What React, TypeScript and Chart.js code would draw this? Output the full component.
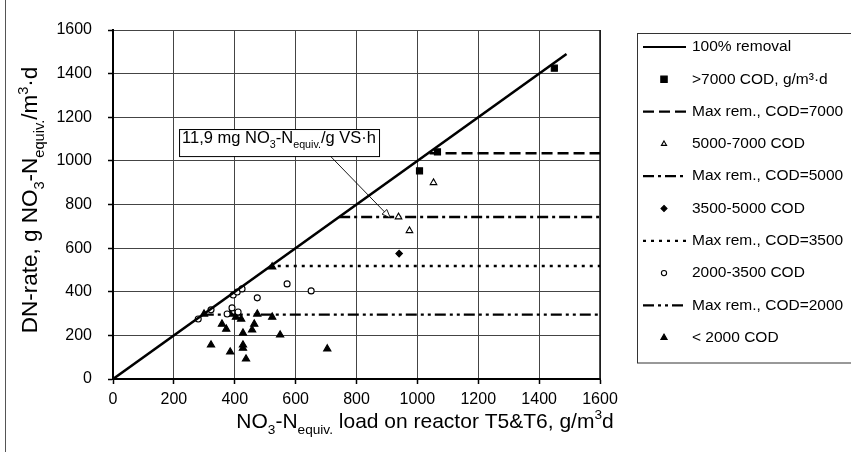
import React, { useEffect, useRef } from "react";
import { Chart, registerables } from "chart.js";

Chart.register(...registerables);

// ---------------- data ----------------
const axisMin = 0;
const axisMax = 1600;
const tickStep = 200;

const seriesLabels = [
  "100% removal",
  ">7000 COD, g/m³·d",
  "Max rem., COD=7000",
  "5000-7000 COD",
  "Max rem., COD=5000",
  "3500-5000 COD",
  "Max rem., COD=3500",
  "2000-3500 COD",
  "Max rem., COD=2000",
  "< 2000 COD",
];

const removalX = [0, 1490];
const removalY = [0, 1490];

const codGt7000X = [1450, 1066, 1007];
const codGt7000Y = [1425, 1041, 954];

const max7000X = [1040, 1600];
const max7000Y = [1035, 1035];

const cod5000to7000X = [1053, 938, 974];
const cod5000to7000Y = [900, 743, 680];

const max5000X = [743, 1600];
const max5000Y = [743, 743];

const cod3500to5000X = [940];
const cod3500to5000Y = [575];

const max3500X = [515, 1600];
const max3500Y = [518, 518];

const cod2000to3500X = [280, 322, 395, 408, 424, 474, 572, 651, 391, 375, 411];
const cod2000to3500Y = [275, 317, 385, 399, 413, 372, 436, 404, 326, 298, 307];

const max2000X = [295, 1600];
const max2000Y = [295, 295];

const codLt2000X = [299, 358, 372, 322, 385, 385, 404, 421, 427, 427, 427, 437, 457, 464, 474, 523, 549, 704, 523];
const codLt2000Y = [298, 252, 229, 156, 124, 298, 284, 275, 211, 156, 142, 92, 225, 252, 298, 284, 202, 138, 514];

// annotation (data coordinates)
const annotBoxX = [217, 874];
const annotBoxY = [1022, 1146];
const annotArrowX = [714, 911];
const annotArrowY = [1022, 739];

// ---------------- styles ----------------
const FONT = "'Liberation Sans', Arial, Helvetica, sans-serif";

type Run = { t: string; k?: "sub" | "sup" };

const yTitleRuns: Run[] = [
  { t: "DN-rate, g NO" },
  { t: "3", k: "sub" },
  { t: "-N" },
  { t: "equiv.", k: "sub" },
  { t: "/m" },
  { t: "3", k: "sup" },
  { t: "·d" },
];
const xTitleRuns: Run[] = [
  { t: "NO" },
  { t: "3", k: "sub" },
  { t: "-N" },
  { t: "equiv.", k: "sub" },
  { t: " load on reactor T5&T6, g/m" },
  { t: "3", k: "sup" },
  { t: "d" },
];
const annotRuns: Run[] = [
  { t: "11,9 mg NO" },
  { t: "3", k: "sub" },
  { t: "-N" },
  { t: "equiv.", k: "sub" },
  { t: "/g VS·h" },
];

const dashes = {
  solid: [] as number[],
  d7000: [11, 5],
  d5000: [11, 4, 3, 4],
  d3500: [3, 5],
  d2000: [11, 4, 3, 4, 3, 4],
};

type LegendEntry =
  | { kind: "line"; dash: number[]; width: number }
  | { kind: "point"; style: string; r: number; fill: string };

const legendStyles: LegendEntry[] = [
  { kind: "line", dash: dashes.solid, width: 2 },
  { kind: "point", style: "rect", r: 3.2, fill: "#000" },
  { kind: "line", dash: dashes.d7000, width: 2.2 },
  { kind: "point", style: "triangle", r: 3, fill: "#fff" },
  { kind: "line", dash: dashes.d5000, width: 2.2 },
  { kind: "point", style: "rectRot", r: 3, fill: "#000" },
  { kind: "line", dash: dashes.d3500, width: 2.2 },
  { kind: "point", style: "circle", r: 2.6, fill: "#fff" },
  { kind: "line", dash: dashes.d2000, width: 2.2 },
  { kind: "point", style: "triangle", r: 3.6, fill: "#000" },
];

function pts(xs: number[], ys: number[]) {
  return xs.map((x, i) => ({ x, y: ys[i] }));
}

function drawRich(
  ctx: CanvasRenderingContext2D,
  runs: Run[],
  x: number,
  y: number,
  size: number,
  align: "left" | "center"
) {
  const small = size * 0.65;
  const widths = runs.map((r) => {
    ctx.font = `${r.k ? small : size}px ${FONT}`;
    return ctx.measureText(r.t).width;
  });
  const total = widths.reduce((a, b) => a + b, 0);
  let cx = align === "center" ? x - total / 2 : x;
  ctx.textBaseline = "alphabetic";
  ctx.textAlign = "left";
  runs.forEach((r, i) => {
    ctx.font = `${r.k ? small : size}px ${FONT}`;
    const dy = r.k === "sub" ? size * 0.3 : r.k === "sup" ? -size * 0.42 : 0;
    ctx.fillText(r.t, cx, y + dy);
    cx += widths[i];
  });
  return total;
}

function drawMarker(
  ctx: CanvasRenderingContext2D,
  style: string,
  x: number,
  y: number,
  r: number,
  fill: string
) {
  ctx.beginPath();
  if (style === "rect") {
    const s = r;
    ctx.rect(x - s, y - s, 2 * s, 2 * s);
  } else if (style === "triangle") {
    ctx.moveTo(x, y - r);
    ctx.lineTo(x + r * 0.866, y + r * 0.5);
    ctx.lineTo(x - r * 0.866, y + r * 0.5);
    ctx.closePath();
  } else if (style === "rectRot") {
    ctx.moveTo(x, y - r);
    ctx.lineTo(x + r, y);
    ctx.lineTo(x, y + r);
    ctx.lineTo(x - r, y);
    ctx.closePath();
  } else {
    ctx.arc(x, y, r, 0, Math.PI * 2);
  }
  ctx.fillStyle = fill;
  ctx.fill();
  ctx.lineWidth = 1.1;
  ctx.strokeStyle = "#000";
  ctx.stroke();
}

const decorPlugin = {
  id: "decor",
  beforeDatasetsDraw(chart: any) {
    const { ctx, chartArea } = chart;
    ctx.save();
    ctx.strokeStyle = "#111";
    ctx.lineWidth = 1.5;
    ctx.beginPath();
    ctx.moveTo(chartArea.right, chartArea.top);
    ctx.lineTo(chartArea.right, chartArea.bottom);
    ctx.stroke();
    ctx.restore();
  },
  afterDatasetsDraw(chart: any) {
    const { ctx, scales } = chart;
    const xs = scales.x;
    const ys = scales.y;
    ctx.save();

    // annotation box
    const bx1 = xs.getPixelForValue(annotBoxX[0]);
    const bx2 = xs.getPixelForValue(annotBoxX[1]);
    const by1 = ys.getPixelForValue(annotBoxY[1]);
    const by2 = ys.getPixelForValue(annotBoxY[0]);
    ctx.fillStyle = "#fff";
    ctx.fillRect(bx1, by1, bx2 - bx1, by2 - by1);
    ctx.strokeStyle = "#000";
    ctx.lineWidth = 1;
    ctx.strokeRect(bx1 + 0.5, by1 + 0.5, bx2 - bx1, by2 - by1);
    ctx.fillStyle = "#000";
    drawRich(ctx, annotRuns, (bx1 + bx2) / 2, by1 + 14, 16.5, "center");

    // arrow
    const ax1 = xs.getPixelForValue(annotArrowX[0]);
    const ay1 = ys.getPixelForValue(annotArrowY[0]);
    const ax2 = xs.getPixelForValue(annotArrowX[1]);
    const ay2 = ys.getPixelForValue(annotArrowY[1]);
    ctx.strokeStyle = "#000";
    ctx.lineWidth = 0.9;
    ctx.beginPath();
    ctx.moveTo(ax1, ay1);
    ctx.lineTo(ax2, ay2);
    ctx.stroke();
    const ang = Math.atan2(ay2 - ay1, ax2 - ax1);
    const hl = 9;
    const hw = 0.38;
    ctx.beginPath();
    ctx.moveTo(ax2, ay2);
    ctx.lineTo(ax2 - hl * Math.cos(ang - hw), ay2 - hl * Math.sin(ang - hw));
    ctx.lineTo(ax2 - hl * Math.cos(ang + hw), ay2 - hl * Math.sin(ang + hw));
    ctx.closePath();
    ctx.fillStyle = "#fff";
    ctx.fill();
    ctx.stroke();

    ctx.restore();
  },
  afterDraw(chart: any) {
    const { ctx } = chart;
    ctx.save();
    ctx.fillStyle = "#000";

    // axis titles
    drawRich(ctx, xTitleRuns, 425, 428, 21, "center");
    ctx.save();
    ctx.translate(37, 200);
    ctx.rotate(-Math.PI / 2);
    drawRich(ctx, yTitleRuns, 0, 0, 22.5, "center");
    ctx.restore();

    // outer frame (left)
    ctx.strokeStyle = "#555";
    ctx.lineWidth = 1;
    ctx.beginPath();
    ctx.moveTo(5.5, 0);
    ctx.lineTo(5.5, 452);
    ctx.stroke();

    // legend
    const lx = 637.5;
    const ly = 33.5;
    ctx.strokeStyle = "#333";
    ctx.lineWidth = 1;
    ctx.strokeRect(lx, ly, 860 - lx, 363 - ly);
    seriesLabels.forEach((label, i) => {
      const y = 47 + i * 32.3;
      const st = legendStyles[i];
      if (st.kind === "line") {
        ctx.save();
        ctx.strokeStyle = "#000";
        ctx.lineWidth = st.width;
        ctx.setLineDash(st.dash);
        ctx.beginPath();
        ctx.moveTo(643, y);
        ctx.lineTo(686, y);
        ctx.stroke();
        ctx.restore();
      } else {
        drawMarker(ctx, st.style, 664, y, st.r, st.fill);
      }
      ctx.fillStyle = "#000";
      ctx.font = `15.5px ${FONT}`;
      ctx.textAlign = "left";
      ctx.textBaseline = "middle";
      ctx.fillText(label, 692, y);
    });
    ctx.restore();
  },
};

export default function App() {
  const canvasRef = useRef<HTMLCanvasElement | null>(null);

  useEffect(() => {
    const canvas = canvasRef.current;
    if (!canvas) return;

    const lineDs = (label: string, xs: number[], ys: number[], dash: number[], width: number) => ({
      type: "line" as const,
      label,
      data: pts(xs, ys),
      showLine: true,
      borderColor: "#000",
      borderWidth: width,
      borderDash: dash,
      pointRadius: 0,
      fill: false,
      tension: 0,
    });
    const pointDs = (
      label: string,
      xs: number[],
      ys: number[],
      style: string,
      r: number,
      bg: string
    ) => ({
      type: "scatter" as const,
      label,
      data: pts(xs, ys),
      pointStyle: style,
      pointRadius: r,
      backgroundColor: bg,
      borderColor: "#000",
      borderWidth: 1.1,
    });

    const tickFmt = (v: any) => String(v);

    const chart = new Chart(canvas, {
      type: "scatter",
      data: {
        datasets: [
          lineDs(seriesLabels[0], removalX, removalY, dashes.solid, 2.6),
          pointDs(seriesLabels[1], codGt7000X, codGt7000Y, "rect", 4.3, "#000"),
          lineDs(seriesLabels[2], max7000X, max7000Y, dashes.d7000, 2.4),
          pointDs(seriesLabels[3], cod5000to7000X, cod5000to7000Y, "triangle", 3.8, "#fff"),
          lineDs(seriesLabels[4], max5000X, max5000Y, dashes.d5000, 2.4),
          pointDs(seriesLabels[5], cod3500to5000X, cod3500to5000Y, "rectRot", 3.3, "#000"),
          lineDs(seriesLabels[6], max3500X, max3500Y, dashes.d3500, 2.4),
          pointDs(seriesLabels[7], cod2000to3500X, cod2000to3500Y, "circle", 3, "#fff"),
          lineDs(seriesLabels[8], max2000X, max2000Y, dashes.d2000, 2.4),
          pointDs(seriesLabels[9], codLt2000X, codLt2000Y, "triangle", 4.2, "#000"),
        ] as any,
      },
      options: {
        animation: false,
        responsive: false,
        devicePixelRatio: 1,
        layout: { padding: { top: 30, right: 251, left: 0, bottom: 0 } },
        plugins: {
          legend: { display: false },
          tooltip: { enabled: false },
          title: { display: false },
        },
        scales: {
          x: {
            type: "linear",
            min: axisMin,
            max: axisMax,
            ticks: {
              stepSize: tickStep,
              color: "#000",
              font: { family: FONT, size: 16 },
              padding: 6,
              maxRotation: 0,
              callback: tickFmt,
            },
            grid: {
              color: "#444",
              lineWidth: 1,
              tickLength: 5,
              tickColor: "#000",
              tickWidth: 1.5,
            },
            border: { color: "#000", width: 2 },
            afterFit: (s: any) => {
              s.height = 73;
            },
          },
          y: {
            type: "linear",
            min: axisMin,
            max: axisMax,
            ticks: {
              stepSize: tickStep,
              color: "#000",
              font: { family: FONT, size: 16 },
              padding: 16,
              callback: tickFmt,
            },
            grid: {
              color: "#444",
              lineWidth: 1,
              tickLength: 5,
              tickColor: "#000",
              tickWidth: 1.5,
            },
            border: { color: "#000", width: 2 },
            afterFit: (s: any) => {
              s.width = 113;
            },
          },
        },
      } as any,
      plugins: [decorPlugin],
    });

    return () => chart.destroy();
  }, []);

  return (
    <div style={{ position: "absolute", left: 0, top: 0, width: 851, height: 452, background: "#fff" }}>
      <canvas ref={canvasRef} width={851} height={452} style={{ display: "block", width: 851, height: 452 }} />
    </div>
  );
}
